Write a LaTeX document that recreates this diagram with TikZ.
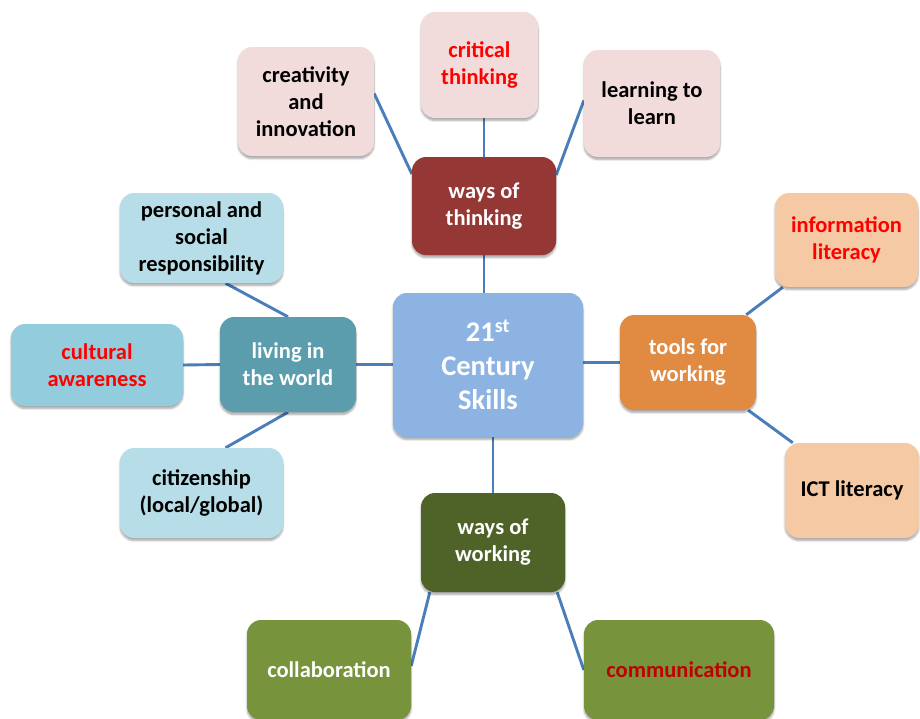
\documentclass[tikz,border=0pt]{standalone}
\usepackage{fontspec}
\setmainfont{Carlito}
\usetikzlibrary{shadows.blur,backgrounds}
\definecolor{cCenter}{HTML}{8DB3E2}
\definecolor{cThink}{HTML}{953735}
\definecolor{cPink}{HTML}{F2DCDB}
\definecolor{cTools}{HTML}{E08A42}
\definecolor{cPeach}{HTML}{F5C9A3}
\definecolor{cWork}{HTML}{4F6228}
\definecolor{cGreen}{HTML}{77933C}
\definecolor{cLive}{HTML}{5B9DAD}
\definecolor{cLBlue}{HTML}{B7DEE8}
\definecolor{cCult}{HTML}{93CDDD}
\definecolor{cLine}{HTML}{4A7EBB}
\definecolor{cRed}{HTML}{FF0000}
\definecolor{cDRed}{HTML}{C00000}
\tikzset{
  box/.style={rounded corners=14pt, align=center, inner sep=0pt,
    font=\fontsize{22.5}{27}\selectfont\bfseries,
    blur shadow={shadow xshift=0pt, shadow yshift=-2.5pt, shadow blur steps=6, shadow opacity=35}},
  conn/.style={draw=cLine, line width=2.9pt},
}
\begin{document}
\begin{tikzpicture}[x=1pt,y=-1pt]
\useasboundingbox (0,0) rectangle (920,718);
% central
\node[box, fill=cCenter, text=white, minimum width=190pt, minimum height=144pt,
  font=\fontsize{28.5}{34}\selectfont\bfseries] (c) at (488,365) {21\textsuperscript{st}\\Century\\Skills};
% ways of thinking
\node[box, fill=cThink, text=white, minimum width=144pt, minimum height=98pt] (wot) at (484,206) {ways of\\thinking};
\node[box, fill=cPink, text=black, minimum width=136pt, minimum height=109pt] (cre) at (306,101.5) {creativity\\and\\innovation};
\node[box, fill=cPink, text=cRed, minimum width=117pt, minimum height=106pt] (crit) at (479.5,65) {critical\\thinking};
\node[box, fill=cPink, text=black, minimum width=136pt, minimum height=107pt] (learn) at (652,103.5) {learning to\\learn};
% tools for working
\node[box, fill=cTools, text=white, minimum width=136pt, minimum height=95pt] (tools) at (688,362.5) {tools for\\working};
\node[box, fill=cPeach, text=cRed, minimum width=143pt, minimum height=94pt] (info) at (846.5,240) {information\\literacy};
\node[box, fill=cPeach, text=black, minimum width=134pt, minimum height=95pt] (ict) at (852,490.5) {ICT literacy};
% ways of working
\node[box, fill=cWork, text=white, minimum width=144pt, minimum height=99pt] (wow) at (493,542.5) {ways of\\working};
\node[box, fill=cGreen, text=white, minimum width=164pt, minimum height=100pt] (collab) at (329,670) {collaboration};
\node[box, fill=cGreen, text=cDRed, minimum width=190pt, minimum height=100pt] (comm) at (679,670) {communication};
% living in the world
\node[box, fill=cLive, text=white, minimum width=136pt, minimum height=95pt] (liv) at (288,364.5) {living in\\the world};
\node[box, fill=cLBlue, text=black, minimum width=163pt, minimum height=90pt] (pers) at (201.5,238) {personal and\\social\\responsibility};
\node[box, fill=cCult, text=cRed, minimum width=172pt, minimum height=82pt] (cult) at (97,365) {cultural\\awareness};
\node[box, fill=cLBlue, text=black, minimum width=163pt, minimum height=90pt] (cit) at (201.5,493) {citizenship\\(local/global)};
% connectors
\begin{scope}[on background layer]
\draw[conn] (wot.south) -- (wot.south |- c.north);
\draw[conn] (wow.north) -- (wow.north |- c.south);
\draw[conn] (tools.west) -- (tools.west -| c.east);
\draw[conn] (liv.east) -- (liv.east -| c.west);
\draw[conn] ([yshift=32pt]wot.west) -- ([yshift=8pt]cre.east);
\draw[conn] (wot.north) -- (wot.north |- crit.south);
\draw[conn] ([yshift=31pt]wot.east) -- ([yshift=3pt]learn.west);
\draw[conn] ([xshift=-10pt]tools.north east) -- ([xshift=8pt]info.south west);
\draw[conn] ([xshift=-8pt]tools.south east) -- ([xshift=8pt]ict.north west);
\draw[conn] ([xshift=9pt]wow.south west) -- ([yshift=4pt]collab.east);
\draw[conn] ([xshift=-8pt]wow.south east) -- (comm.west);
\draw[conn] (liv.north) -- ([xshift=24pt]pers.south);
\draw[conn] (liv.south) -- ([xshift=24pt]cit.north);
\draw[conn] (liv.west) -- (cult.east);
\end{scope}
\end{tikzpicture}
\end{document}
